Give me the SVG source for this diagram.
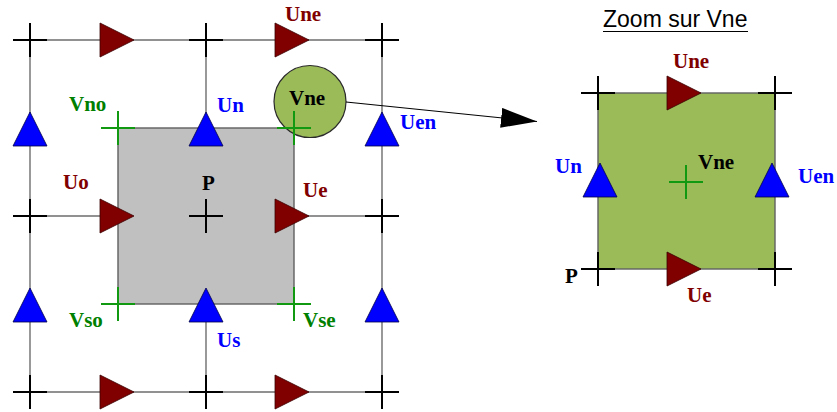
<svg xmlns="http://www.w3.org/2000/svg" width="837" height="412" viewBox="0 0 837 412">
<style>
.grid{stroke:#6e6e6e;stroke-width:1.4;fill:none}
.cross{stroke:#000;stroke-width:2;fill:none}
.gcross{stroke:#119a11;stroke-width:2;fill:none}
.tr{fill:#800000;stroke:#3a0000;stroke-width:0.8}
.tb{fill:#0000ff;stroke:#00004a;stroke-width:0.8}
.lbl{font-family:"Liberation Serif","Times New Roman",serif;font-weight:bold;font-size:21px}
.red{fill:#800000}.blue{fill:#0000ff}.green{fill:#008000}.black{fill:#000}
</style>
<defs>
<path id="cx" d="M-17,0H17M0,-17V17"/>
<path id="tri-r" d="M-17,-17L17,0L-17,17Z"/>
<path id="tri-u" d="M0,-17L17,17L-17,17Z"/>
<marker id="ah" markerUnits="userSpaceOnUse" markerWidth="40" markerHeight="24" refX="36" refY="10" orient="auto">
<path d="M0,0L36,10L0,20Z" fill="#000"/>
</marker>
</defs>

<g id="grid">
<path class="grid" d="M13,40H399M13,216H399M13,392H399M30,23V409M206,23V409M382,23V409"/>
</g>

<g id="cell-P">
<rect x="118" y="128" width="176" height="176" fill="#c0c0c0" stroke="#606060" stroke-width="1.4"/>
</g>

<g id="nodes-crosses">
<use href="#cx" class="cross" x="30" y="40"/>
<use href="#cx" class="cross" x="206" y="40"/>
<use href="#cx" class="cross" x="382" y="40"/>
<use href="#cx" class="cross" x="30" y="216"/>
<use href="#cx" class="cross" x="206" y="216"/>
<use href="#cx" class="cross" x="382" y="216"/>
<use href="#cx" class="cross" x="30" y="392"/>
<use href="#cx" class="cross" x="206" y="392"/>
<use href="#cx" class="cross" x="382" y="392"/>
</g>

<g id="u-horizontal">
<use href="#tri-r" class="tr" x="117" y="40"/>
<use href="#tri-r" class="tr" x="292" y="40"/>
<use href="#tri-r" class="tr" x="117" y="216"/>
<use href="#tri-r" class="tr" x="292" y="216"/>
<use href="#tri-r" class="tr" x="117" y="392"/>
<use href="#tri-r" class="tr" x="292" y="392"/>
</g>

<g id="u-vertical">
<use href="#tri-u" class="tb" x="30" y="129"/>
<use href="#tri-u" class="tb" x="206" y="129"/>
<use href="#tri-u" class="tb" x="382" y="129"/>
<use href="#tri-u" class="tb" x="30" y="305"/>
<use href="#tri-u" class="tb" x="206" y="305"/>
<use href="#tri-u" class="tb" x="382" y="305"/>
</g>

<g id="node-Vne-circle">
<circle cx="310" cy="101.5" r="36" fill="#9bbb59" stroke="#2a2a2a" stroke-width="1.2"/>
<text class="lbl black" x="289" y="105">Vne</text>
</g>

<g id="v-corners">
<use href="#cx" class="gcross" x="118" y="128"/>
<use href="#cx" class="gcross" x="294" y="128"/>
<use href="#cx" class="gcross" x="118" y="304"/>
<use href="#cx" class="gcross" x="294" y="304"/>
</g>

<g id="labels-left">
<text class="lbl red" x="285" y="21">Une</text>
<text class="lbl green" x="69" y="111">Vno</text>
<text class="lbl blue" x="217" y="112">Un</text>
<text class="lbl blue" x="400" y="129">Uen</text>
<text class="lbl red" x="63" y="189">Uo</text>
<text class="lbl black" x="202" y="190">P</text>
<text class="lbl red" x="303" y="197">Ue</text>
<text class="lbl green" x="69" y="327">Vso</text>
<text class="lbl blue" x="217" y="347">Us</text>
<text class="lbl green" x="303" y="327">Vse</text>
</g>

<g id="connectors">
<path d="M346,102L537,121.5" stroke="#000" stroke-width="1.2" fill="none" marker-end="url(#ah)"/>
</g>

<g id="zoom-panel">
<text x="603" y="27" font-family="'Liberation Sans',Arial,sans-serif" font-size="23" fill="#000">Zoom sur Vne</text>
<path d="M603,31.5H748" stroke="#000" stroke-width="1.2"/>
<rect x="598" y="93" width="177" height="176" fill="#9bbb59" stroke="#606060" stroke-width="1.4"/>
<use href="#cx" class="cross" x="598" y="93"/>
<use href="#cx" class="cross" x="775" y="93"/>
<use href="#cx" class="cross" x="598" y="269"/>
<use href="#cx" class="cross" x="775" y="269"/>
<use href="#tri-r" class="tr" x="684" y="93"/>
<use href="#tri-r" class="tr" x="684" y="269"/>
<use href="#tri-u" class="tb" x="600" y="180"/>
<use href="#tri-u" class="tb" x="772" y="180"/>
<use href="#cx" class="gcross" x="686" y="182"/>
<text class="lbl red" x="673" y="68">Une</text>
<text class="lbl blue" x="555" y="173">Un</text>
<text class="lbl black" x="698" y="169">Vne</text>
<text class="lbl blue" x="798" y="183">Uen</text>
<text class="lbl black" x="565" y="283">P</text>
<text class="lbl red" x="687" y="302">Ue</text>
</g>
</svg>
